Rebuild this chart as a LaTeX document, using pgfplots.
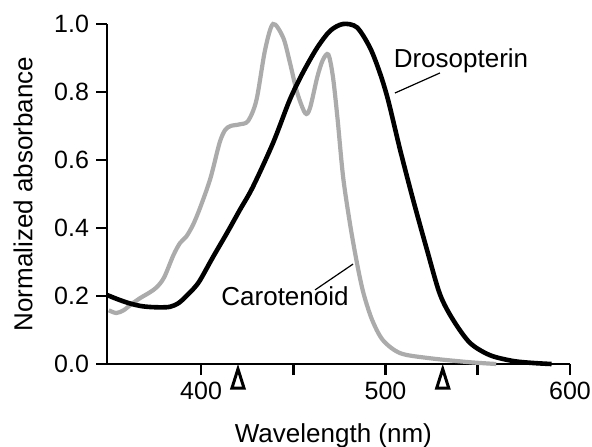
\documentclass[border=0pt]{standalone}
\usepackage{fontspec}
\setmainfont{Liberation Sans}
\usepackage{pgfplots}
\pgfplotsset{compat=1.18}
\definecolor{carogray}{HTML}{ABABAB}
\begin{document}
\begin{tikzpicture}
\begin{axis}[
  at={(0,0)}, anchor=south west,
  scale only axis, width=231.5pt, height=170pt,
  xmin=349, xmax=600, ymin=0, ymax=1.0,
  axis x line*=bottom, axis y line*=left,
  axis line style={line width=1.4pt},
  tick style={line width=1.4pt, black},
  tick align=outside, major tick length=5.5pt,
  xtick={400,450,500,550,600}, xticklabels={400,,500,,600},
  ytick={0,0.2,0.4,0.6,0.8,1.0},
  yticklabel style={/pgf/number format/.cd, fixed, fixed zerofill, precision=1},
  /pgf/number format/assume math mode=true,
  tick label style={font=\fontsize{12.5}{14}\selectfont},
  clip=false,
]
\addplot[carogray, line width=2.1pt, smooth] coordinates {
(350,0.158) (354,0.150) (358,0.158) (362,0.175) (367,0.194) (372,0.210) (376,0.226)
(380,0.255) (385,0.32) (388.6,0.356) (392,0.375) (395.7,0.41) (399.5,0.46) (405,0.545)
(410,0.65) (413,0.688) (416,0.70) (421,0.705) (425.5,0.715) (430,0.776) (434.7,0.924)
(439,1.0) (444.5,0.96) (448,0.89) (452,0.80) (456.4,0.738) (459,0.752) (463,0.844)
(466,0.894) (469,0.91) (471.5,0.844) (474,0.72) (477,0.55) (480.8,0.41) (484.5,0.297)
(488,0.209) (492.7,0.13) (498.6,0.07) (507.9,0.032) (522.5,0.018) (544,0.006) (560,0.0)
};
\addplot[black, line width=2.3pt, smooth] coordinates {
(349,0.203) (355,0.19) (361.5,0.178) (368,0.17) (375,0.167) (383,0.168) (388,0.18)
(392,0.20) (396,0.222) (399.5,0.247) (406.5,0.315) (414,0.385) (421,0.453) (428,0.52)
(439,0.65) (448,0.776) (455,0.855) (462.9,0.93) (470,0.98) (477,1.0) (484.5,0.99)
(491.6,0.93) (497,0.855) (501.4,0.776) (507.9,0.63) (515,0.482) (522.5,0.335)
(529.5,0.205) (536.6,0.13) (545.8,0.062) (556.6,0.026) (569,0.009) (580,0.003) (590,0.0)
};
\node[anchor=base, font=\fontsize{13}{15}\selectfont] at (axis cs:540.9,0.871) {Drosopterin};
\draw[line width=0.6pt] (axis cs:529.5,0.856) -- (axis cs:505.1,0.797);
\node[anchor=base, font=\fontsize{13}{15}\selectfont] at (axis cs:445.5,0.171) {Carotenoid};
\draw[line width=0.6pt] (axis cs:461.8,0.218) -- (axis cs:482.4,0.294);
\draw[line width=1.5pt, line join=miter] ([xshift=-3pt,yshift=-12pt]axis cs:420,0) -- ([yshift=-2.5pt]axis cs:420,0) -- ([xshift=3pt,yshift=-12pt]axis cs:420,0) -- cycle;
\draw[line width=1.5pt, line join=miter] ([xshift=-3pt,yshift=-12pt]axis cs:531,0) -- ([yshift=-2.5pt]axis cs:531,0) -- ([xshift=3pt,yshift=-12pt]axis cs:531,0) -- cycle;
\node[rotate=90, anchor=center, font=\fontsize{13}{15}\selectfont] at (axis description cs:-0.1814,0.5) {Normalized absorbance};
\node[anchor=base, font=\fontsize{13}{15}\selectfont] at (axis description cs:0.489,-0.232) {Wavelength (nm)};
\end{axis}
\pgfresetboundingbox
\path (-53.5pt,-41pt) rectangle (242.5pt,182pt);
\end{tikzpicture}
\end{document}
